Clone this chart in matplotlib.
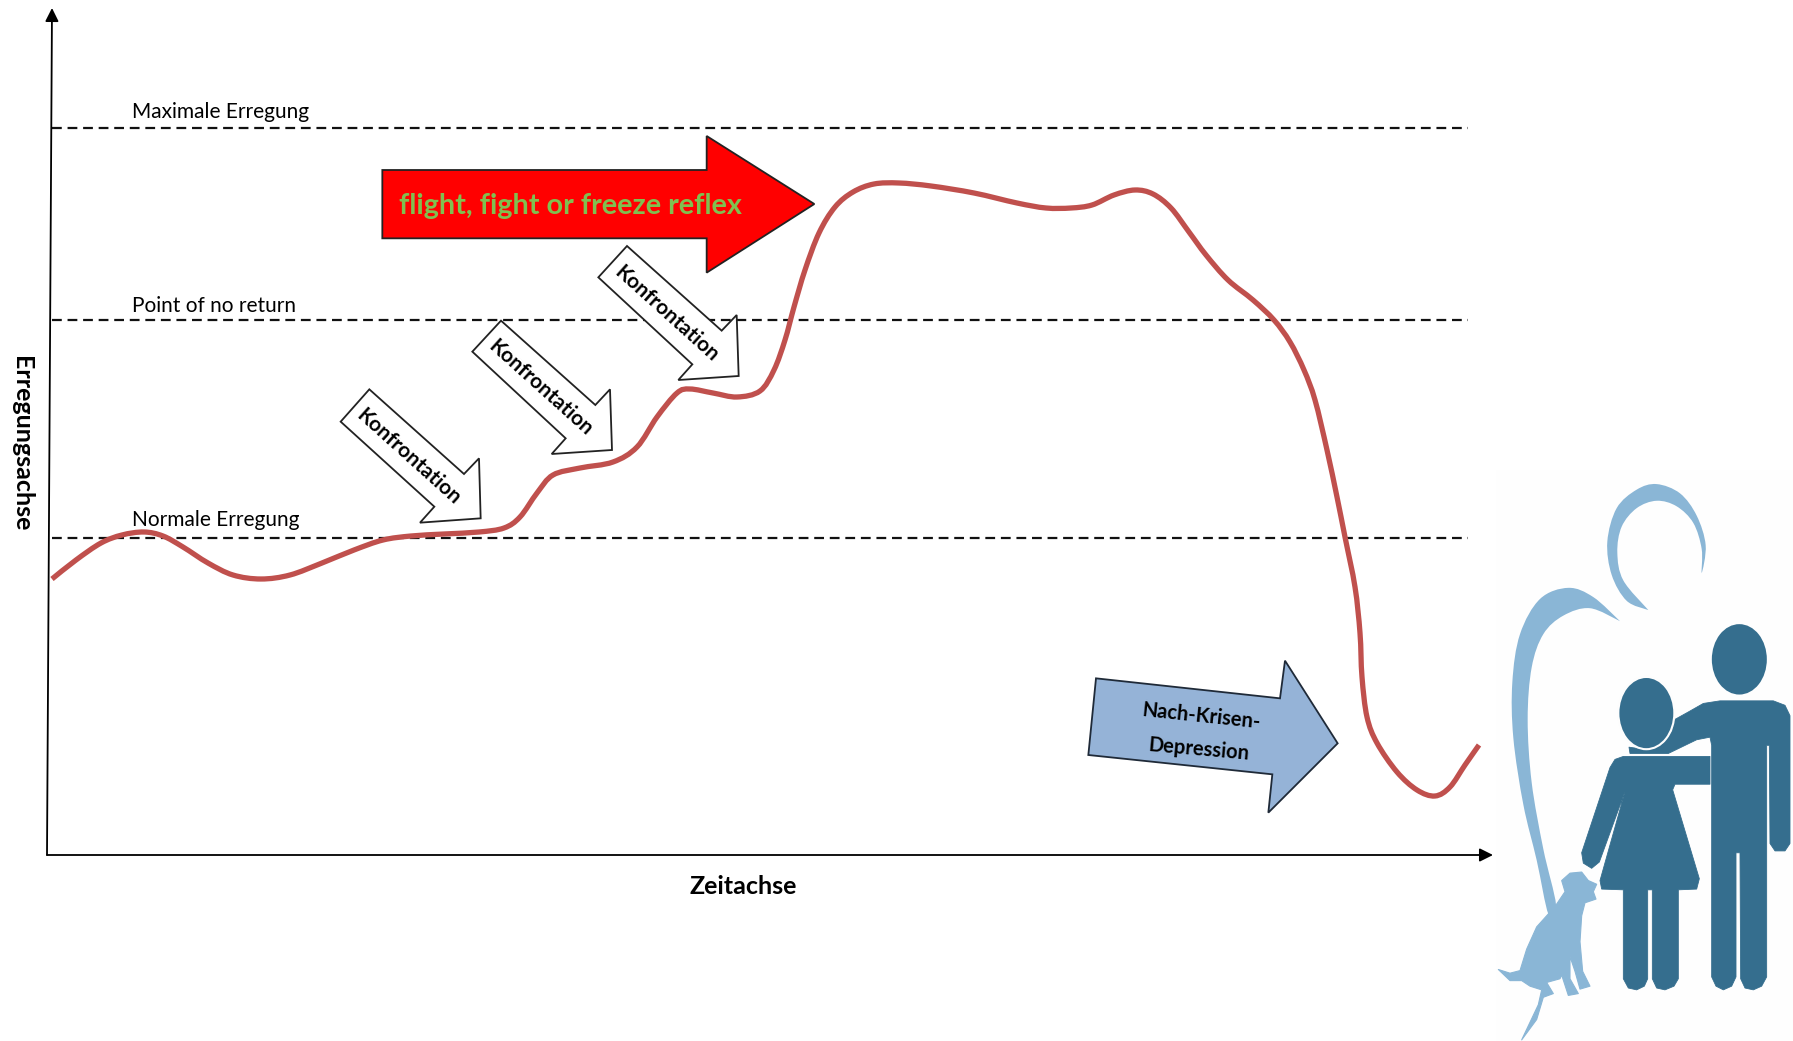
import numpy as np
import matplotlib
matplotlib.use('Agg')
import matplotlib.pyplot as plt
from matplotlib.path import Path
from matplotlib.patches import PathPatch, Polygon, Ellipse, Rectangle

plt.rcParams['font.family'] = ['Lato', 'DejaVu Sans']

# curve (x = time, y = arousal, in image pixels)
curve_x = [52, 76, 101, 122, 144, 163, 183, 208, 233, 261, 290, 322, 354, 383, 411, 444, 479, 504,
           520, 537, 553, 580, 613, 637, 657, 677, 690, 713, 737, 760, 774, 785, 794, 805, 819, 835,
           853, 874, 899, 931, 974, 1017, 1046, 1071, 1092, 1114, 1135, 1153, 1171, 1189, 1206, 1228,
           1253, 1274, 1290, 1304, 1315, 1327, 1337, 1345, 1355, 1360, 1362, 1367, 1377, 1397, 1417,
           1435, 1450, 1465, 1479]
curve_y = [579, 560, 543, 535, 532, 536, 547, 563, 575, 579, 575, 563, 550, 540, 536, 534, 532, 528,
           517, 493, 475, 468, 462, 447, 417, 393, 389, 393, 397, 391, 370, 340, 307, 270, 233, 207,
           192, 184, 183, 186, 193, 203, 208, 208, 205, 195, 190, 194, 208, 232, 255, 280,
           300, 320, 342, 370, 400, 450, 497, 537, 587, 633, 677, 717, 743, 772, 790,
           796, 787, 765, 745]

level_names = ['Maximale Erregung', 'Point of no return', 'Normale Erregung']
level_y = [128, 320, 538]
label_y = [122, 316, 530]

# shapes
red_arrow = [(187, 150), (1160, 150), (1160, 48), (1483, 252), (1160, 458), (1160, 355), (187, 355)]
konf_1 = [(148, 808), (432, 1062), (477, 1015), (482, 1195), (300, 1208), (343, 1160), (62, 905)]
konf_2 = [(543, 602), (826, 855), (870, 808), (876, 990), (695, 1002), (737, 955), (457, 695)]
konf_3 = [(921, 378), (1205, 632), (1250, 585), (1256, 768), (1075, 780), (1117, 733), (835, 472)]
konf_text = [(265, 1010), (661, 802), (1040, 580)]
blue_arrow = [(108, 115), (660, 175), (675, 62), (833, 310), (625, 518), (637, 403), (85, 345)]

big_crescent = [(420, 435), (340, 370), (265, 345), (180, 375), (120, 470), (97, 600), (100, 750),
                (130, 930), (170, 1080), (205, 1225), (228, 1200), (190, 1050), (155, 870),
                (143, 700), (155, 560), (190, 470), (250, 420), (330, 400), (420, 435)]
small_crescent = [(505, 405), (440, 380), (395, 310), (382, 220), (410, 130), (470, 80), (530, 65),
                  (600, 90), (650, 150), (677, 230), (665, 305), (665, 240), (640, 170), (590, 125),
                  (530, 110), (470, 130), (425, 180), (412, 250), (430, 325), (505, 405)]
man_body = [(585, 700), (625, 680), (670, 657), (720, 650), (880, 650), (915, 662), (930, 690),
            (930, 1035), (915, 1055), (885, 1055), (870, 1035), (868, 770), (860, 770), (860, 1395),
            (845, 1420), (820, 1430), (795, 1425), (782, 1400), (780, 1060), (768, 1060), (768, 1395),
            (755, 1420), (730, 1430), (708, 1420), (695, 1395), (695, 770), (690, 748), (650, 755),
            (565, 792), (450, 792), (447, 775), (500, 782), (550, 765), (575, 735)]
woman_body = [(690, 800), (430, 800), (405, 808), (390, 830), (305, 1060), (310, 1088), (335, 1102),
              (358, 1085), (435, 895), (360, 1135), (365, 1158), (430, 1160), (430, 1400), (445, 1425),
              (470, 1430), (493, 1420), (503, 1400), (503, 1160), (517, 1160), (517, 1400), (530, 1425),
              (555, 1430), (582, 1420), (595, 1400), (595, 1160), (650, 1158), (658, 1130), (578, 890),
              (585, 875), (690, 875)]
dog = [(55, 1375), (90, 1385), (120, 1378), (140, 1320), (170, 1260), (225, 1205), (255, 1165),
       (245, 1135), (270, 1115), (305, 1112), (325, 1135), (350, 1145), (340, 1165), (348, 1185),
       (315, 1195), (305, 1230), (300, 1300), (308, 1380), (330, 1420), (300, 1428), (285, 1380),
       (270, 1340), (270, 1400), (295, 1440), (265, 1445), (245, 1390), (240, 1400), (200, 1410),
       (220, 1440), (190, 1450), (170, 1510), (125, 1565), (175, 1470), (185, 1430), (150, 1420),
       (125, 1405), (90, 1405)]

LOGO_SY = 1568 / 581  # the logo crop came back squeezed vertically


def crop(points, x0, y0, sy=3):
    return [(x0 + px / 3, y0 + py / sy) for px, py in points]


def logo(points):
    return crop(points, 1480, 460, LOGO_SY)


def smooth_path(xs, ys):
    # catmull-rom control points, matplotlib draws the bezier
    p = np.column_stack([xs, ys]).astype(float)
    p = np.vstack([p[0], p, p[-1]])
    verts = [p[1]]
    codes = [Path.MOVETO]
    for i in range(1, len(p) - 2):
        verts += [p[i] + (p[i + 1] - p[i - 1]) / 6, p[i + 1] - (p[i + 2] - p[i]) / 6, p[i + 1]]
        codes += [Path.CURVE4] * 3
    return Path(verts, codes)


def crescent(points, color):
    xs, ys = zip(*logo(points))
    ax.add_patch(PathPatch(smooth_path(xs, ys), fc=color, ec='none', zorder=3))


fig = plt.figure(figsize=(17.93, 10.41), dpi=100)
ax = fig.add_axes([0, 0, 1, 1])
ax.set_xlim(0, 1793)
ax.set_ylim(1041, 0)
ax.axis('off')

ax.add_patch(Rectangle((1496, 470), 297, 571, fc='#fefefe', ec='none', zorder=0))

# axes arrows
ax.annotate('', xy=(52, 8), xytext=(47, 855),
            arrowprops=dict(arrowstyle='-|>', color='black', lw=1.3, mutation_scale=20, shrinkA=0, shrinkB=0))
ax.annotate('', xy=(1493, 855), xytext=(47, 855),
            arrowprops=dict(arrowstyle='-|>', color='black', lw=1.3, mutation_scale=20, shrinkA=0, shrinkB=0))

for name, y, ty in zip(level_names, level_y, label_y):
    ax.plot([52, 1468], [y, y], color='#111111', lw=1.6, dashes=(4.4, 2.6), zorder=1)
    ax.text(132, ty, name, fontsize=15, color='black', va='bottom', ha='left')

ax.add_patch(PathPatch(smooth_path(curve_x, curve_y), fc='none', ec='#c0504d', lw=3.8, capstyle='butt', zorder=2))

ax.add_patch(Polygon(crop(red_arrow, 320, 120), fc='#ff0000', ec='#222222', lw=1.3, zorder=4))
ax.text(399, 206, 'flight, fight or freeze reflex', fontsize=20.7, fontweight='bold', color='#80c050',
        va='center', ha='left', zorder=5)

for shape, pos in zip([konf_1, konf_2, konf_3], konf_text):
    ax.add_patch(Polygon(crop(shape, 320, 120), fc='white', ec='#222222', lw=1.3, zorder=4))
    x, y = crop([pos], 320, 120)[0]
    ax.text(x, y, 'Konfrontation', fontsize=15, fontweight='bold', color='black', rotation=-42,
            rotation_mode='anchor', ha='center', va='center', zorder=5)

ax.add_patch(Polygon(crop(blue_arrow, 1060, 640), fc='#95b3d7', ec='#1f2a38', lw=1.3, zorder=4))
ax.text(1201, 716, 'Nach-Krisen-', fontsize=14.5, fontweight='bold', color='black', rotation=-6,
        rotation_mode='anchor', ha='center', va='center', zorder=5)
ax.text(1199, 749, 'Depression', fontsize=14.5, fontweight='bold', color='black', rotation=-5,
        rotation_mode='anchor', ha='center', va='center', zorder=5)

ax.text(743, 887, 'Zeitachse', fontsize=18, fontweight='bold', ha='center', va='center')
ax.text(21, 444, 'Erregungsachse', fontsize=18, fontweight='bold', rotation=-90, ha='center', va='center')

# family with dog
light = '#8ab6d6'
dark = '#356e8e'
crescent(big_crescent, light)
crescent(small_crescent, light)
ax.add_patch(Polygon(logo(man_body), fc=dark, ec=dark, lw=0.6, joinstyle='round', zorder=3))
ax.add_patch(Ellipse(logo([(778, 538)])[0], 165 / 3, 190 / LOGO_SY, fc=dark, ec='none', zorder=3))
ax.add_patch(Polygon(logo(woman_body), fc=dark, ec=dark, lw=0.6, joinstyle='round', zorder=3))
ax.add_patch(Ellipse(logo([(499, 683)])[0], 168 / 3, 195 / LOGO_SY, fc=dark, ec='#fdfdfd', lw=1.5, zorder=4))
ax.add_patch(Polygon(logo(dog), fc=light, ec=light, lw=0.8, joinstyle='round', zorder=3))

fig.savefig('out.png', dpi=100)
